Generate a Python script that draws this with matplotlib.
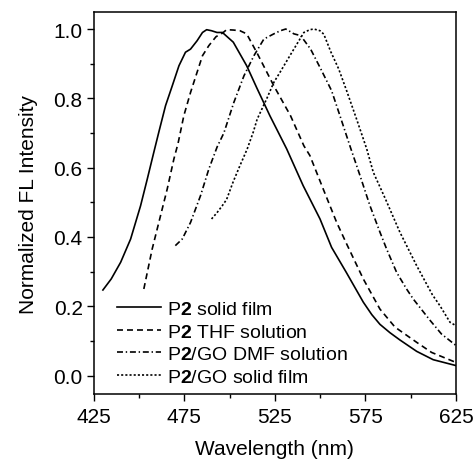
import matplotlib
matplotlib.use("Agg")
import matplotlib.pyplot as plt
from matplotlib.ticker import MultipleLocator

plt.rcParams['font.family'] = ['Liberation Sans', 'DejaVu Sans']
plt.rcParams['mathtext.fontset'] = 'custom'
plt.rcParams['mathtext.rm'] = 'Liberation Sans'
plt.rcParams['mathtext.bf'] = 'Liberation Sans:bold'
plt.rcParams['lines.scale_dashes'] = False

# P2 solid film
wl_solid = [430, 434.6, 439.8, 445.3, 450.8, 454.5, 458.1, 461, 464.6, 468.3, 472, 475.6, 478.4,
            482, 485, 487.3, 490, 493, 496, 502, 509.4, 515, 522.2, 531.5, 540.6, 549.9, 556.3,
            564.4, 573.8, 578.5, 583, 588.5, 594, 603.3, 612.4, 625]
int_solid = [0.247, 0.279, 0.327, 0.394, 0.49, 0.567, 0.644, 0.705, 0.779, 0.836, 0.894, 0.933, 0.942,
             0.966, 0.99, 0.998, 0.995, 0.99, 0.99, 0.962, 0.894, 0.83, 0.75, 0.654, 0.548, 0.452, 0.37,
             0.298, 0.212, 0.176, 0.148, 0.124, 0.103, 0.07, 0.046, 0.029]

# P2 THF solution
wl_thf = [452.6, 457.2, 461.8, 465.5, 469.2, 471.5, 474.7, 478.4, 482, 485, 488.5, 492.5, 496, 498.3,
          502, 505.7, 509.4, 515.2, 524.4, 533.6, 541, 544.3, 551.7, 559.1, 564.6, 573.8, 583, 591.3,
          603.3, 611.5, 625]
int_thf = [0.25, 0.365, 0.461, 0.538, 0.625, 0.67, 0.75, 0.817, 0.875, 0.923, 0.952, 0.978, 0.988, 0.998,
           0.997, 0.995, 0.986, 0.93, 0.836, 0.75, 0.663, 0.635, 0.538, 0.442, 0.38, 0.279, 0.192, 0.14,
           0.096, 0.067, 0.038]

# P2/GO DMF solution
wl_dmf = [470, 473.8, 478.4, 483.9, 488.5, 493.1, 496.8, 502.3, 507.9, 513.4, 518.9, 524.4, 528, 531,
          535.5, 539.2, 544.7, 550.3, 556.3, 560.9, 566.4, 572, 577.5, 583, 586.7, 592.2, 597.7, 601.4,
          610.6, 617, 625]
int_dmf = [0.375, 0.394, 0.442, 0.519, 0.596, 0.66, 0.70, 0.788, 0.865, 0.923, 0.971, 0.986, 0.995, 1.0,
           0.986, 0.981, 0.942, 0.885, 0.822, 0.75, 0.663, 0.577, 0.49, 0.414, 0.365, 0.298, 0.25, 0.221,
           0.16, 0.12, 0.087]

# P2/GO solid film
wl_gofilm = [490, 493, 495.9, 498.3, 502, 505.7, 509.7, 513, 515.2, 520.4, 524.4, 527.8, 533.5, 538.8,
             541, 544.3, 546.5, 549.9, 552, 555.8, 560.2, 564.6, 570.1, 575.7, 579.3, 586, 594, 603.3,
             612, 616.1, 621.7, 625]
int_gofilm = [0.452, 0.47, 0.49, 0.508, 0.56, 0.606, 0.654, 0.702, 0.74, 0.798, 0.846, 0.875, 0.925, 0.971,
              0.99, 0.998, 1.0, 0.995, 0.985, 0.935, 0.885, 0.822, 0.74, 0.654, 0.587, 0.51, 0.414, 0.317,
              0.233, 0.202, 0.154, 0.144]

labels = [r'P$\mathbf{2}$ solid film', r'P$\mathbf{2}$ THF solution',
          r'P$\mathbf{2}$/GO DMF solution', r'P$\mathbf{2}$/GO solid film']
xticks = [425, 475, 525, 575, 625]
yticks = [0.0, 0.2, 0.4, 0.6, 0.8, 1.0]

fig = plt.figure(figsize=(4.74, 4.60), dpi=100)
ax = fig.add_axes([0.198, 0.1413, 0.764, 0.8304])

lw = 1.2
ax.plot(wl_solid, int_solid, color='black', lw=lw, linestyle='-', label=labels[0])
ax.plot(wl_thf, int_thf, color='black', lw=lw, linestyle=(0, (4.3, 2.9)), label=labels[1])
ax.plot(wl_dmf, int_dmf, color='black', lw=lw, linestyle=(0, (4.3, 2.0, 1.0, 2.0)), label=labels[2])
ax.plot(wl_gofilm, int_gofilm, color='black', lw=lw, linestyle=(0, (1.5, 1.5)), label=labels[3])

ax.set_xlim(425, 625)
ax.set_ylim(-0.053, 1.049)
ax.set_xticks(xticks)
ax.set_yticks(yticks)
ax.set_yticklabels([f'{v:.1f}' for v in yticks])
ax.xaxis.set_minor_locator(MultipleLocator(25))
ax.yaxis.set_minor_locator(MultipleLocator(0.1))
ax.tick_params(which='major', direction='out', length=5, width=1.0, labelsize=15, top=False, right=False)
ax.tick_params(axis='x', which='major', pad=4)
ax.tick_params(axis='y', which='major', pad=3)
ax.tick_params(which='minor', direction='out', length=3, width=1.0, top=False, right=False)
for s in ax.spines.values():
    s.set_linewidth(1.1)

ax.set_xlabel('Wavelength (nm)', fontsize=15, labelpad=10)
ax.set_ylabel('Normalized FL Intensity', fontsize=15, labelpad=11)

ax.legend(loc='lower left', bbox_to_anchor=(0.064, 0.022), frameon=False, fontsize=14,
          handlelength=2.25, handletextpad=0.3, labelspacing=0.25, borderpad=0, borderaxespad=0)

fig.savefig('out.png', dpi=100)
